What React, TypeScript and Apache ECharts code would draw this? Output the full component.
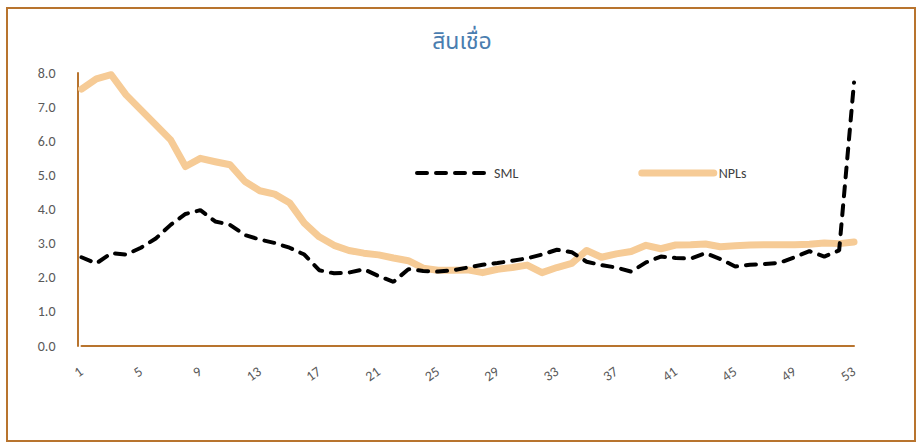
import React, { useEffect, useRef } from "react";
import * as echarts from "echarts";

const categories: string[] = Array.from({ length: 53 }, (_, i) => String(i + 1));
const smlValues: number[] = [
  2.6, 2.42, 2.72, 2.68, 2.88, 3.15, 3.55, 3.87, 3.98, 3.65,
  3.55, 3.25, 3.12, 3.02, 2.88, 2.68, 2.22, 2.13, 2.15, 2.25,
  2.05, 1.88, 2.25, 2.2, 2.18, 2.22, 2.3, 2.38, 2.43, 2.5,
  2.57, 2.68, 2.82, 2.75, 2.47, 2.37, 2.3, 2.18, 2.45, 2.62,
  2.58, 2.56, 2.72, 2.55, 2.33, 2.38, 2.4, 2.44, 2.6, 2.78,
  2.62, 2.8, 7.72,
];
const nplValues: number[] = [
  7.53, 7.83, 7.95, 7.36, 6.92, 6.48, 6.04, 5.26, 5.5, 5.4,
  5.31, 4.82, 4.55, 4.45, 4.2, 3.6, 3.2, 2.95, 2.8, 2.72,
  2.67, 2.58, 2.5, 2.28, 2.22, 2.22, 2.23, 2.15, 2.25, 2.3,
  2.37, 2.15, 2.3, 2.42, 2.8, 2.6, 2.7, 2.77, 2.95, 2.85,
  2.96, 2.97, 2.99, 2.91, 2.94, 2.96, 2.97, 2.97, 2.97, 2.98,
  3.02, 3.0, 3.05,
];
const titleText = "สินเชื่อ";
const seriesNames = ["SML", "NPLs"];

export default function App() {
  const ref = useRef<HTMLDivElement>(null);
  useEffect(() => {
    document.body.style.margin = "0";
    if (!ref.current) return;
    const chart = echarts.init(ref.current, null, { renderer: "svg" });
    const axisColor = "#B8742E";
    const smlColor = "#000000";
    const nplColor = "#F6CB96";
    const smlLine = { color: smlColor, width: 4, type: [10, 9], cap: "round" };
    const nplLine = { color: nplColor, width: 7, cap: "round", join: "round" };
    const font = "Calibri, Carlito, 'Liberation Sans', 'Noto Sans', sans-serif";
    chart.setOption({
      animation: false,
      backgroundColor: "#ffffff",
      textStyle: { fontFamily: font },
      title: {
        text: titleText,
        left: "center",
        top: 25,
        textStyle: {
          color: "#4A7DAF",
          fontSize: 23,
          fontWeight: "normal",
          fontFamily: "'Noto Sans Thai', 'Noto Sans', sans-serif",
        },
      },
      graphic: [
        {
          type: "rect",
          shape: { x: 7, y: 8, width: 908, height: 433 },
          style: { fill: "none", stroke: axisColor, lineWidth: 2 },
          silent: true,
        },
      ],
      legend: {
        left: 410,
        top: 161,
        itemGap: 120,
        itemWidth: 72,
        itemHeight: 14,
        itemStyle: { opacity: 0 },
        data: [
          { name: seriesNames[0], lineStyle: smlLine },
          { name: seriesNames[1], lineStyle: nplLine },
        ],
        textStyle: { color: "#404040", fontSize: 14, fontFamily: font },
      },
      grid: { left: 81.5, right: 70, top: 73, bottom: 98 },
      xAxis: {
        type: "category",
        data: categories,
        boundaryGap: false,
        axisLine: { lineStyle: { color: axisColor, width: 2 } },
        axisTick: { show: false },
        axisLabel: {
          interval: 3,
          rotate: 35,
          margin: 24,
          color: "#595959",
          fontSize: 14,
        },
      },
      yAxis: {
        type: "value",
        min: 0,
        max: 8,
        interval: 1,
        offset: 4,
        axisLine: { show: true, lineStyle: { color: axisColor, width: 2 } },
        axisTick: { show: false },
        splitLine: { show: false },
        axisLabel: {
          margin: 22,
          color: "#595959",
          fontSize: 14,
          formatter: (v: number) => v.toFixed(1),
        },
      },
      series: [
        {
          name: seriesNames[0],
          type: "line",
          data: smlValues,
          symbol: "none",
          color: smlColor,
          lineStyle: smlLine,
          z: 3,
        },
        {
          name: seriesNames[1],
          type: "line",
          data: nplValues,
          symbol: "none",
          color: nplColor,
          lineStyle: nplLine,
          z: 2,
        },
      ],
    });
    return () => chart.dispose();
  }, []);
  return <div ref={ref} style={{ width: 924, height: 444 }} />;
}
